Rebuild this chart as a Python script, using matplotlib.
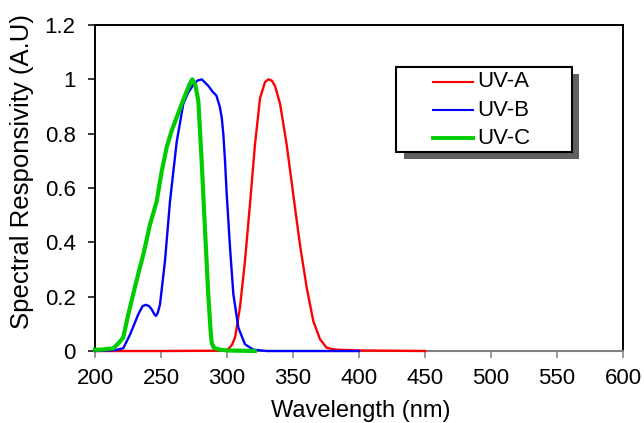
import matplotlib.pyplot as plt
from matplotlib.patches import Rectangle

plt.rcParams['font.family'] = ['Liberation Sans', 'DejaVu Sans']

# --- data ---
labels = ["UV-A", "UV-B", "UV-C"]
colors = ["#ff0000", "#0000ff", "#00cc00"]
widths = [1.7, 1.7, 3.0]

# UV-A
wl_a = [200, 250, 290, 296, 299.8, 302, 304, 306.1, 309.8, 313.6, 317.4, 321.2,
        325.0, 328.8, 331.4, 334, 336.4, 340.2, 345.2, 350.2, 355.3, 360.4,
        365.4, 370.5, 375.5, 380, 383.1, 400, 450]
resp_a = [0, 0, 0.001, 0.002, 0.004, 0.012, 0.025, 0.05, 0.16, 0.33, 0.54, 0.76,
          0.93, 0.99, 1.0, 0.995, 0.975, 0.91, 0.76, 0.576, 0.39, 0.233,
          0.11, 0.043, 0.012, 0.007, 0.005, 0.002, 0]

# UV-B
wl_b = [200, 215, 221.4, 226.5, 232.8, 236, 238.6, 241, 243.0, 245, 246.2,
        247.5, 249.2, 253.0, 256.8, 261.9, 266.9, 270.5, 274.5, 277.5, 280.8,
        283, 286, 289, 292, 294.5, 296, 297.2, 298.5, 299.8, 302.3, 304.8,
        308.6, 313.6, 319.9, 330, 400]
resp_b = [0, 0.003, 0.01, 0.06, 0.135, 0.165, 0.17, 0.165, 0.153, 0.135, 0.129,
          0.14, 0.17, 0.33, 0.55, 0.77, 0.91, 0.95, 0.98, 0.995, 1.0,
          0.99, 0.975, 0.955, 0.94, 0.9, 0.86, 0.8, 0.7, 0.576, 0.38, 0.21,
          0.086, 0.025, 0.005, 0, 0]

# UV-C
wl_c = [200, 205, 210, 213.9, 216, 219, 221.4, 225, 229.0, 232.8, 236.6,
        241.7, 246.7, 250.5, 254.3, 258, 261.9, 265.7, 269.5, 272, 273.7,
        276, 278.3, 280.8, 283.3, 285.8, 287.5, 288.4, 290, 294.7, 300, 321]
resp_c = [0.005, 0.005, 0.008, 0.01, 0.02, 0.035, 0.05, 0.13, 0.21, 0.285, 0.355,
          0.466, 0.55, 0.66, 0.75, 0.81, 0.86, 0.91, 0.956, 0.985, 1.0,
          0.98, 0.92, 0.70, 0.45, 0.21, 0.08, 0.03, 0.012, 0.005, 0.002, 0]

xticks = [200, 250, 300, 350, 400, 450, 500, 550, 600]
yticks = [0, 0.2, 0.4, 0.6, 0.8, 1.0, 1.2]
ytick_labels = ["0", "0.2", "0.4", "0.6", "0.8", "1", "1.2"]

fig = plt.figure(figsize=(6.44, 4.23), dpi=100)
ax = fig.add_axes([0.1475, 0.1702, 0.8199, 0.7707])

series = [(wl_a, resp_a), (wl_b, resp_b), (wl_c, resp_c)]
for (x, y), c, lw, lab in zip(series, colors, widths, labels):
    ax.plot(x, y, color=c, lw=lw, label=lab, clip_on=False, zorder=3)

ax.set_xlim(200, 600)
ax.set_ylim(0, 1.2)
ax.set_xticks(xticks)
ax.set_xticklabels([str(t) for t in xticks])
ax.set_yticks(yticks)
ax.set_yticklabels(ytick_labels)

ax.tick_params(axis='x', direction='out', length=5, width=1.1, color='#808080',
               labelsize=16, pad=7)
ax.tick_params(axis='y', direction='out', length=5, width=1.1, color='black',
               labelsize=16, pad=9)

for s in ['left', 'top', 'right']:
    ax.spines[s].set_color('black')
    ax.spines[s].set_linewidth(1.4)
ax.spines['bottom'].set_color('#808080')
ax.spines['bottom'].set_linewidth(1.5)

ax.set_xlabel("Wavelength (nm)", fontsize=17, va='center')
ax.xaxis.set_label_coords(0.503, -0.184)
ax.set_ylabel("Spectral Responsivity (A.U)", fontsize=18.5, va='center')
ax.yaxis.set_label_coords(-0.138, 0.552)

# legend box drawn by hand to get the wide Excel-style padding and shadow
bx0, bx1, by0, by1 = 0.571, 0.903, 0.611, 0.871
ax.add_patch(Rectangle((bx0 + 0.0133, by0 - 0.0215), bx1 - bx0, by1 - by0,
                       transform=ax.transAxes, facecolor='#606060',
                       edgecolor='none', zorder=5, clip_on=False))
ax.add_patch(Rectangle((bx0, by0), bx1 - bx0, by1 - by0, transform=ax.transAxes,
                       facecolor='white', edgecolor='black', lw=1.5, zorder=6,
                       clip_on=False))
rows = [0.826, 0.738, 0.652]
legend_widths = [1.5, 1.5, 2.8]
for yy, c, lw, lab in zip(rows, colors, legend_widths, labels):
    ax.plot([0.640, 0.716], [yy, yy], color=c, lw=lw, transform=ax.transAxes,
            zorder=7, clip_on=False)
    ax.text(0.724, yy, lab, transform=ax.transAxes, fontsize=16,
            va='center', ha='left', zorder=7)

fig.savefig("out.png", dpi=100)
